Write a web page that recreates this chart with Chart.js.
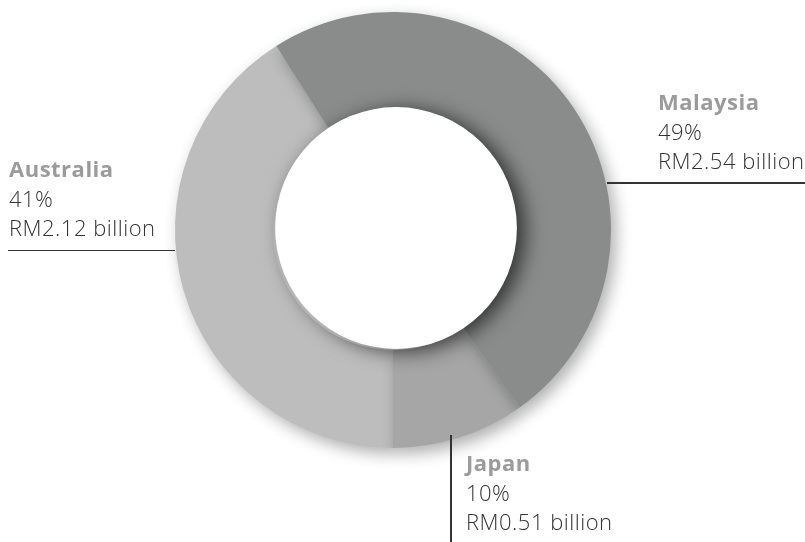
<!DOCTYPE html>
<html>
<head>
<meta charset="utf-8">
<script src="https://cdn.jsdelivr.net/npm/chart.js@4"></script>
<style>
html,body{margin:0;padding:0;background:#fff;}
#wrap{position:relative;width:805px;height:542px;overflow:hidden;}
canvas{position:absolute;left:0;top:0;}
.lbl{position:absolute;font-family:"Open Sans",sans-serif;font-size:22px;line-height:29.6px;letter-spacing:0.5px;font-weight:300;color:#333;white-space:nowrap;}
.lbl b{color:#9b9b9b;font-weight:700;}
.rule{position:absolute;background:#333;}
</style>
</head>
<body>
<div id="wrap">
  <canvas id="ring" width="805" height="542"></canvas>
  <div class="rule" style="left:607px;top:182px;width:198px;height:1.5px"></div>
  <div class="rule" style="left:8px;top:249.5px;width:167px;height:1.5px"></div>
  <div class="rule" style="left:450px;top:435px;width:1.5px;height:107px"></div>
  <div class="lbl" id="lbl0" style="left:658px;top:87px"></div>
  <div class="lbl" id="lbl1" style="left:466px;top:448px"></div>
  <div class="lbl" id="lbl2" style="left:9px;top:154px"></div>
</div>
<script>
const regions=['Malaysia','Japan','Australia'];
const revenue=[2.54,0.51,2.12];   // RM billion
const shares=['49%','10%','41%'];
const colors=['#8a8c8c','#a6a6a6','#bdbdbd'];
const drawOrder=[2,1,0];          // Malaysia sits on top

const total=revenue.reduce((a,b)=>a+b,0);
// Japan has to end straight down, so start Malaysia accordingly
const startAngle=180-360*(revenue[0]+revenue[1])/total;

regions.forEach((r,i)=>{
  document.getElementById('lbl'+i).innerHTML=`<b>${r}</b><br>${shares[i]}<br>RM${revenue[i].toFixed(2)} billion`;
});

// draw slices in our own order, each with a soft drop shadow, then the raised white hole
const shadowRing={
  id:'shadowRing',
  beforeDatasetDraw(chart,args){
    const ctx=chart.ctx, arcs=args.meta.data;
    drawOrder.forEach(i=>{
      ctx.save();
      ctx.shadowColor='rgba(0,0,0,0.32)';
      ctx.shadowBlur=16;
      ctx.shadowOffsetX=5;
      ctx.shadowOffsetY=6;
      arcs[i].draw(ctx);
      ctx.restore();
    });
    return false;
  },
  afterDatasetsDraw(chart){
    const ctx=chart.ctx, a=chart.getDatasetMeta(0).data[0];
    ctx.save();
    ctx.shadowColor='rgba(0,0,0,0.65)';
    ctx.shadowBlur=20;
    ctx.shadowOffsetX=8;
    ctx.shadowOffsetY=3;
    ctx.fillStyle='#fff';
    ctx.beginPath();
    ctx.arc(a.x+3,a.y-2,a.innerRadius+1,0,Math.PI*2);
    ctx.fill();
    ctx.restore();
  }
};

new Chart(document.getElementById('ring').getContext('2d'),{
  type:'doughnut',
  data:{labels:regions,datasets:[{data:revenue,backgroundColor:colors,borderWidth:0,hoverOffset:0}]},
  options:{
    responsive:false,animation:false,
    cutout:'55%',rotation:startAngle,
    layout:{padding:{left:175,right:194,top:12,bottom:94}},
    plugins:{legend:{display:false},tooltip:{enabled:false}}
  },
  plugins:[shadowRing]
});
</script>
</body>
</html>
